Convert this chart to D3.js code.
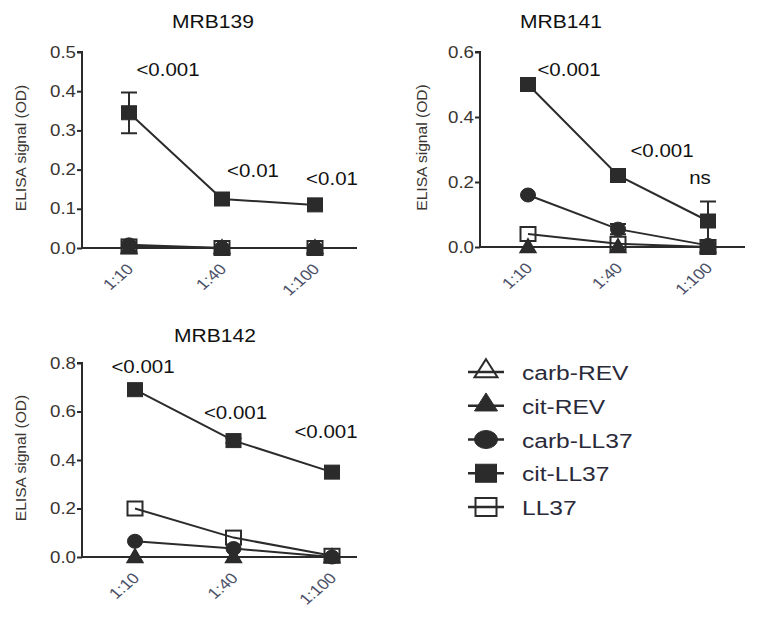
<!DOCTYPE html>
<html><head><meta charset="utf-8">
<script src="https://cdn.jsdelivr.net/npm/d3@7"></script>
<style>body{margin:0;background:#fff;}svg{display:block;font-family:Arial,"Liberation Sans",sans-serif;}</style>
</head><body><svg id="c" width="764" height="623"></svg>
<script>
const dilutions = ["1:10", "1:40", "1:100"];
const seriesNames = ["carb-REV", "cit-REV", "carb-LL37", "cit-LL37", "LL37"];
const panelTitles = ["MRB139", "MRB141", "MRB142"];
const yMax = [0.5, 0.6, 0.8];
const yTicks = [[0, 0.1, 0.2, 0.3, 0.4, 0.5], [0, 0.2, 0.4, 0.6], [0, 0.2, 0.4, 0.6, 0.8]];
// values per panel, per series (order as seriesNames)
const mrb139 = [[0.0, 0.0, 0.0], [0.0, 0.0, 0.0], [0.008, 0.0, 0.0], [0.345, 0.125, 0.11], [0.004, 0.0, 0.0]];
const mrb141 = [[0.0, 0.0, 0.0], [0.0, 0.0, 0.0], [0.16, 0.055, 0.005], [0.50, 0.22, 0.08], [0.04, 0.01, 0.0]];
const mrb142 = [[0.0, 0.0, 0.0], [0.0, 0.0, 0.0], [0.065, 0.035, 0.0], [0.69, 0.48, 0.35], [0.20, 0.08, 0.005]];
// error half-widths
const err139 = [[0, 0, 0], [0, 0, 0], [0, 0, 0], [0.052, 0.008, 0.008], [0, 0, 0]];
const err141 = [[0, 0, 0], [0, 0, 0], [0, 0.016, 0], [0.01, 0.012, 0.06], [0, 0, 0]];
const err142 = [[0, 0, 0], [0, 0, 0], [0, 0, 0], [0.012, 0.01, 0.01], [0, 0, 0]];
const pLabels = [["<0.001", "<0.01", "<0.01"], ["<0.001", "<0.001", "ns"], ["<0.001", "<0.001", "<0.001"]];
// value level (OD) at which each p label sits
const pLabelLevel = [[0.439, 0.181, 0.161], [0.526, 0.277, 0.194], [0.759, 0.569, 0.491]];

const values = [mrb139, mrb141, mrb142];
const errors = [err139, err141, err142];
const symbolTypes = ["triangle", "triangle", "circle", "square", "square"];
const filled = [false, true, true, true, false];
const drawOrder = [4, 0, 1, 2, 3];

const layout = [
  {axL: 82, axR: 357, x0: 129, x1: 315, top: 52, bot: 248, ylabX: 22, titleX: 213, titleY: 28, pdx: [39, 31, 17]},
  {axL: 480, axR: 745, x0: 528, x1: 708, top: 52, bot: 247, ylabX: 423, titleX: 561, titleY: 28, pdx: [41, 44, -8]},
  {axL: 82, axR: 357, x0: 135, x1: 332, top: 363, bot: 557, ylabX: 22, titleX: 215, titleY: 342, pdx: [8, 2, -6]}
];
const SX = 1.17; // horizontal stretch of the original picture
const ink = "#2b2b2b";
const svg = d3.select("#c");

function drawSymbol(g, type, cx, cy, w, h, fill) {
  if (type === "square") {
    g.append("rect").attr("x", cx - w/2).attr("y", cy - h/2).attr("width", w).attr("height", h)
      .attr("fill", fill ? ink : "none").attr("stroke", ink).attr("stroke-width", fill ? 1 : 2);
  } else if (type === "circle") {
    g.append("ellipse").attr("cx", cx).attr("cy", cy).attr("rx", w/2).attr("ry", h/2).attr("fill", ink).attr("stroke", ink);
  } else {
    g.append("path").attr("d", `M${cx},${cy - h*0.6}L${cx + w/2},${cy + h*0.4}L${cx - w/2},${cy + h*0.4}Z`)
      .attr("fill", fill ? ink : "none").attr("stroke", ink).attr("stroke-width", fill ? 1 : 2).attr("stroke-linejoin", "miter");
  }
}

layout.forEach((L, p) => {
  const g = svg.append("g");
  const x = d3.scalePoint().domain(dilutions).range([L.x0, L.x1]);
  const y = d3.scaleLinear().domain([0, yMax[p]]).range([L.bot, L.top]);

  // title
  g.append("text").attr("transform", `translate(${L.titleX},${L.titleY}) scale(${SX},1)`).attr("text-anchor", "middle")
    .attr("font-size", 18).attr("fill", "#111").text(panelTitles[p]);

  // y axis
  const ya = g.append("g").attr("transform", `translate(${L.axL},0)`)
    .call(d3.axisLeft(y).tickValues(yTicks[p]).tickFormat(d3.format(".1f")).tickSize(5).tickPadding(1));
  ya.select(".domain").attr("stroke", ink).attr("stroke-width", 2).attr("d", `M-5,${L.top}H0V${L.bot}`);
  ya.selectAll(".tick line").attr("stroke", ink).attr("stroke-width", 2);
  ya.selectAll(".tick text").attr("font-size", 16).attr("fill", "#3a3530")
    .attr("font-family", "Arial,Liberation Sans,sans-serif")
    .attr("x", null).attr("transform", `translate(-6,0) scale(${SX},1)`);

  // x axis
  const xa = g.append("g").attr("transform", `translate(0,${L.bot})`)
    .call(d3.axisBottom(x).tickSize(0).tickPadding(0));
  xa.select(".domain").attr("stroke", ink).attr("stroke-width", 2).attr("d", `M${L.axL},0H${L.axR}`);
  xa.selectAll(".tick text").attr("font-size", 15).attr("fill", "#4a4f66")
    .attr("font-family", "Arial,Liberation Sans,sans-serif")
    .attr("text-anchor", "end").attr("dy", null).attr("y", 0)
    .attr("transform", `translate(5,22) scale(${SX},1) rotate(-45)`);

  // y label
  g.append("text").attr("transform", `translate(${L.ylabX + 4},${(L.top + L.bot) / 2 - 2}) scale(${SX},1) rotate(-90) scale(1.2,1)`)
    .attr("text-anchor", "middle").attr("font-size", 13).attr("fill", "#3a3530").text("ELISA signal (OD)");

  // lines and error bars
  seriesNames.forEach((name, s) => {
    const vals = values[p][s];
    const line = d3.line().x((d, i) => x(dilutions[i])).y(d => y(d));
    g.append("path").attr("d", line(vals)).attr("fill", "none").attr("stroke", ink).attr("stroke-width", 2);
    vals.forEach((v, i) => {
      const e = errors[p][s][i];
      if (e > 0) {
        const cx = x(dilutions[i]);
        g.append("path").attr("d", `M${cx},${y(v - e)}V${y(v + e)}M${cx - 8},${y(v + e)}H${cx + 8}M${cx - 8},${y(v - e)}H${cx + 8}`)
          .attr("stroke", ink).attr("stroke-width", 2).attr("fill", "none");
      }
    });
  });
  // markers
  drawOrder.forEach(s => {
    values[p][s].forEach((v, i) => {
      const t = symbolTypes[s];
      drawSymbol(g, t, x(dilutions[i]), y(v), t === "triangle" ? 15 : 15, t === "triangle" ? 13 : 14, filled[s]);
    });
  });

  // p-value annotations
  pLabels[p].forEach((t, i) => {
    g.append("text").attr("transform", `translate(${x(dilutions[i]) + L.pdx[i]},${y(pLabelLevel[p][i])}) scale(${SX},1)`)
      .attr("text-anchor", "middle").attr("font-size", 17.5).attr("fill", "#111").text(t);
  });
});

// legend
const lg = svg.append("g");
const legendY = d3.scalePoint().domain(seriesNames).range([372, 507]);
seriesNames.forEach((name, s) => {
  const cy = legendY(name);
  const cx = 486;
  lg.append("line").attr("x1", cx - 18).attr("x2", cx + 18).attr("y1", cy).attr("y2", cy).attr("stroke", ink).attr("stroke-width", 2.5);
  const t = symbolTypes[s];
  drawSymbol(lg, t, cx, t === "triangle" ? cy - 2 : cy, t === "square" ? 21 : 23, 18, filled[s]);
  lg.append("text").attr("transform", `translate(522,${cy + 8}) scale(${SX},1)`).attr("font-size", 21).attr("fill", "#2a2a3a").text(name);
});
</script></body></html>
